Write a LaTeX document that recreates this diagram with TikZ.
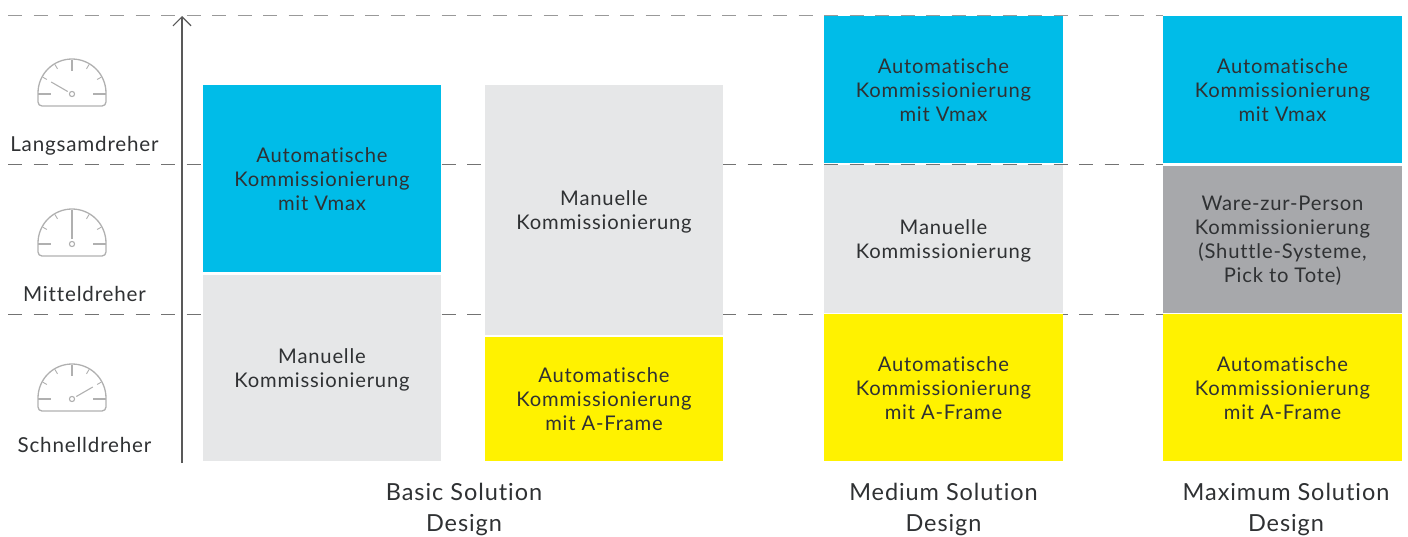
\documentclass[tikz,border=0pt]{standalone}
\usepackage{fontspec}
\setmainfont[LetterSpace=4,Ligatures={NoCommon,NoRequired,NoContextual}]{Lato}
\usetikzlibrary{arrows.meta}
\definecolor{cblue}{HTML}{00BCE8}
\definecolor{clight}{HTML}{E6E7E8}
\definecolor{cdark}{HTML}{A7A8AB}
\definecolor{cyell}{HTML}{FFF200}
\definecolor{ctext}{HTML}{2F3133}
\definecolor{cgauge}{HTML}{B0B0B0}
\newcommand{\topstrut}{\rule{0pt}{21pt}}
\newcommand{\botstrut}{\rule[-6pt]{0pt}{6pt}}
\tikzset{
  box/.style={inner sep=0pt,outer sep=0pt,align=center,text=ctext,font=\fontsize{20.2}{24}\selectfont},
  sidelabel/.style={inner sep=0pt,text=ctext,font=\fontsize{20.6}{24}\selectfont},
  designlabel/.style={inner sep=0pt,align=center,text=ctext,font=\fontsize{23.5}{31}\selectfont},
  guide/.style={line width=1pt,dash pattern=on 14pt off 11.5pt},
  gaugeline/.style={draw=cgauge,line width=1.3pt},
  axisline/.style={draw=black!65,line width=1.2pt,-{Straight Barb[length=9pt,width=18pt,line width=1.2pt]}}
}
% \gaugeicon{pivot x}{pivot y}{needle angle}{needle start}{needle end}
\newcommand{\gaugeicon}[5]{%
  \begin{scope}[shift={(#1,#2)}]
    \draw[gaugeline,rounded corners=4pt] (-34,1) -- (-34,-12) -- (34,-12) -- (34,1);
    \draw[gaugeline] (-34,1) arc[start angle=180,end angle=0,radius=34];
    \draw[gaugeline] (-34,0) -- (-21,0) (21,0) -- (34,0);
    \foreach \a in {30,60,120,150}{\draw[gaugeline,line width=.9pt] (\a:29) -- (\a:34);}
    \draw[gaugeline] (90:23) -- (90:34);
    \draw[gaugeline,line width=1.1pt] (#3:#4) -- (#3:#5);
    \draw[gaugeline,line width=1.1pt,fill=white] (0,0) circle[radius=2.6];
  \end{scope}}
\begin{document}
\begin{tikzpicture}[x=1pt,y=1pt]
\useasboundingbox (0,0) rectangle (1408,-536);
% guide lines
\coordinate (gaL) at (8,-15);    \coordinate (gaR) at (1163,-15);
\coordinate (gbL) at (8,-164.5); \coordinate (gbR) at (1163,-164.5);
\coordinate (gcL) at (8,-314);   \coordinate (gcR) at (1163,-314);
\draw[guide,draw=black!40] (gaL) -- (gaR);
\draw[guide,draw=black!55] (gbL) -- (gbR);
\draw[guide,draw=black!55] (gcL) -- (gcR);
% axis
\coordinate (axB) at (182,-463);
\coordinate (axT) at (182,-16);
\draw[axisline] (axB) -- (axT);
% gauges
\gaugeicon{72}{-94}{150}{5}{24}
\gaugeicon{72}{-244}{90}{5}{27}
\gaugeicon{72}{-399}{30}{5}{24}
\node[sidelabel] (lang) at (84.5,-145.5) {Langsamdreher};
\node[sidelabel] (mitt) at (84.5,-293.5) {Mitteldreher};
\node[sidelabel] (schn) at (84.5,-445) {Schnelldreher};
% column 1
\node[box,fill=cblue,minimum width=238pt,minimum height=187pt] (a1) at (322,-178.5) {\topstrut Automatische\\Kommissionierung\\mit Vmax\botstrut};
\node[box,fill=clight,minimum width=238pt,minimum height=186pt] (a2) at (322,-367.5) {\topstrut Manuelle\\Kommissionierung\botstrut};
% column 2
\node[box,fill=clight,minimum width=238pt,minimum height=250pt] (b1) at (604,-210) {\topstrut Manuelle\\Kommissionierung\botstrut};
\node[box,fill=cyell,minimum width=238pt,minimum height=123.5pt] (b2) at (604,-398.75) {\topstrut Automatische\\Kommissionierung\\mit A-Frame\botstrut};
% column 3
\node[box,fill=cblue,minimum width=239pt,minimum height=147pt] (c1) at (943.5,-89.5) {\topstrut Automatische\\Kommissionierung\\mit Vmax\botstrut};
\node[box,fill=clight,minimum width=239pt,minimum height=148pt] (c2) at (943.5,-239) {\topstrut Manuelle\\Kommissionierung\botstrut};
\node[box,fill=cyell,minimum width=239pt,minimum height=147pt] (c3) at (943.5,-387.5) {\topstrut Automatische\\Kommissionierung\\mit A-Frame\botstrut};
% column 4
\node[box,fill=cblue,minimum width=239pt,minimum height=147pt] (d1) at (1282.5,-89.5) {\topstrut Automatische\\Kommissionierung\\mit Vmax\botstrut};
\node[box,fill=cdark,minimum width=239pt,minimum height=147pt] (d2) at (1282.5,-239) {\topstrut Ware-zur-Person\\Kommissionierung\\(Shuttle-Systeme,\\Pick to Tote)\botstrut};
\node[box,fill=cyell,minimum width=239pt,minimum height=147pt] (d3) at (1282.5,-387.5) {\topstrut Automatische\\Kommissionierung\\mit A-Frame\botstrut};
% design labels
\node[designlabel] (e1) at (464,-509) {Basic Solution\\Design};
\node[designlabel] (e2) at (943.5,-509) {Medium Solution\\Design};
\node[designlabel] (e3) at (1286,-509) {Maximum Solution\\Design};
\end{tikzpicture}
\end{document}
